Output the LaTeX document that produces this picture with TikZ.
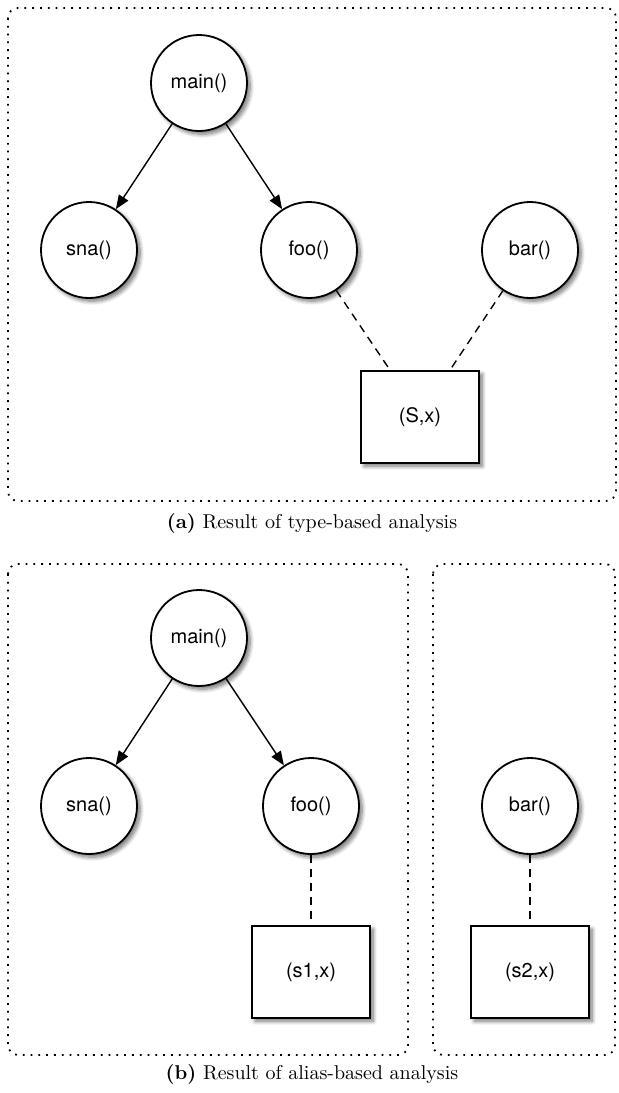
\documentclass[tikz,border=0pt]{standalone}
\usepackage{fontspec}
\newfontfamily\helv{TeX Gyre Heros}
\usepackage{tikz}
\usetikzlibrary{arrows.meta, positioning, shadows.blur, calc}

\tikzset{
  fn/.style={draw, circle, line width=0.9pt, fill=white, minimum size=48pt,
    inner sep=0pt, font=\helv\fontsize{10}{12}\selectfont,
    blur shadow={shadow xshift=1.6pt, shadow yshift=-1.6pt, shadow blur radius=2pt,
      shadow blur steps=8, shadow opacity=55}},
  obj/.style={draw, rectangle, line width=0.9pt, fill=white, minimum width=59pt,
    minimum height=46pt, inner sep=0pt, font=\helv\fontsize{10}{12}\selectfont,
    blur shadow={shadow xshift=1.6pt, shadow yshift=-1.6pt, shadow blur radius=2pt,
      shadow blur steps=8, shadow opacity=55}},
  call/.style={-{Triangle[length=7pt,width=5.5pt]}, line width=0.7pt},
  pts/.style={dash pattern=on 4pt off 3pt, line width=0.7pt},
  panel/.style={rounded corners=5pt, line width=0.9pt, dash pattern=on 0.9pt off 3pt},
}

\begin{document}
\begin{tikzpicture}[x=0.5pt, y=-0.5pt]
  \useasboundingbox (0,0) rectangle (619,1093);
  % (a) type-based
  \draw[panel] (8,8) rectangle (616,501);
  \node[fn] (main) at (199,83) {main()};
  \foreach \n/\x in {sna/89, foo/309, bar/530} {
    \node[fn] (\n) at (\x,250) {\n()};
  }
  \node[obj] (sx) at (420,417) {(S,x)};
  \foreach \t in {sna,foo} {
    \draw[call] (main) -- (\t);
  }
  \draw[pts] (foo) -- ($(sx.north west)!0.25!(sx.north east)$);
  \draw[pts] (bar) -- ($(sx.north west)!0.75!(sx.north east)$);
  \node (capa) at (312,523) {\textbf{(a)} Result of type-based analysis};
  % (b) alias-based
  \draw[panel] (8,564) rectangle (408,1055);
  \draw[panel] (433,564) rectangle (615,1055);
  \node[fn] (main2) at (199,638) {main()};
  \foreach \n/\x in {sna/89, foo/311, bar/530} {
    \node[fn] (\n2) at (\x,806) {\n()};
  }
  \node[obj] (s1x) at (311,972) {(s1,x)};
  \node[obj] (s2x) at (530,972) {(s2,x)};
  \foreach \t in {sna2,foo2} {
    \draw[call] (main2) -- (\t);
  }
  \draw[pts] (foo2) -- (s1x);
  \draw[pts] (bar2) -- (s2x);
  \node (capb) at (312,1074) {\textbf{(b)} Result of alias-based analysis};
\end{tikzpicture}
\end{document}
